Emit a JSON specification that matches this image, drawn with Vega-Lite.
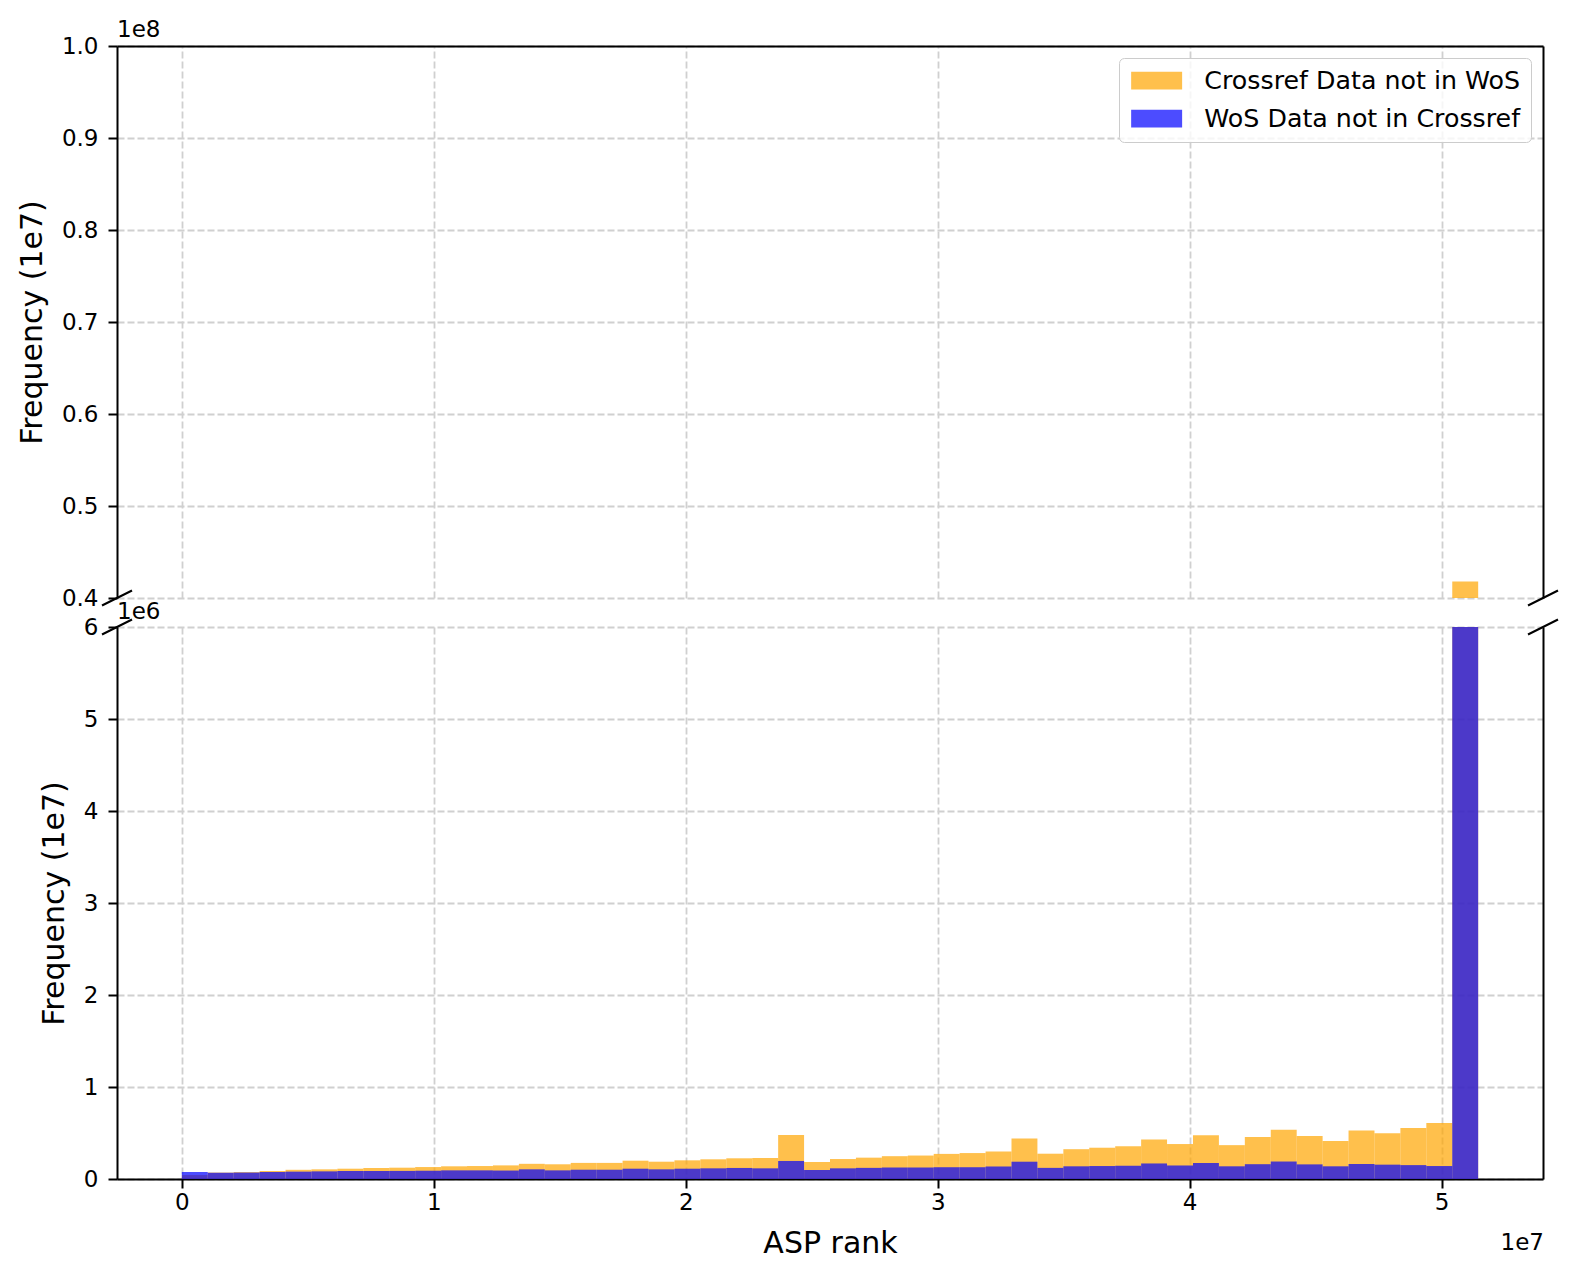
{
  "$schema": "https://vega.github.io/schema/vega-lite/v6.json",
  "padding": {"left": 17, "top": 19, "right": 5, "bottom": 5},
  "background": "white",
  "config": {
    "font": "DejaVu Sans",
    "view": {"stroke": null},
    "axis": {
      "labelFont": "DejaVu Sans", "titleFont": "DejaVu Sans",
      "labelFontSize": 23, "titleFontSize": 30, "titleFontWeight": "normal",
      "labelColor": "black", "titleColor": "black",
      "domainColor": "black", "domainWidth": 2,
      "tickColor": "black", "tickWidth": 2, "tickSize": 9,
      "labelPadding": 7, "titlePadding": 14,
      "gridColor": "#d0d0d0", "gridDash": [7, 3], "gridWidth": 1.8, "gridOpacity": 1
    },
    "axisX": {"labelPadding": 3},
    "axisY": {"labelPadding": 10},
    "title": {"font": "DejaVu Sans", "fontSize": 23, "fontWeight": "normal", "color": "black"}
  },
  "datasets": {
    "hist": [
      {"series": "Crossref Data not in WoS", "start": 0, "end": 1029000, "count": 43000},
      {"series": "Crossref Data not in WoS", "start": 1029000, "end": 2058000, "count": 70000},
      {"series": "Crossref Data not in WoS", "start": 2058000, "end": 3087000, "count": 75000},
      {"series": "Crossref Data not in WoS", "start": 3087000, "end": 4116000, "count": 87000},
      {"series": "Crossref Data not in WoS", "start": 4116000, "end": 5145000, "count": 100000},
      {"series": "Crossref Data not in WoS", "start": 5145000, "end": 6174000, "count": 105000},
      {"series": "Crossref Data not in WoS", "start": 6174000, "end": 7203000, "count": 112000},
      {"series": "Crossref Data not in WoS", "start": 7203000, "end": 8232000, "count": 120000},
      {"series": "Crossref Data not in WoS", "start": 8232000, "end": 9261000, "count": 123000},
      {"series": "Crossref Data not in WoS", "start": 9261000, "end": 10290000, "count": 130000},
      {"series": "Crossref Data not in WoS", "start": 10290000, "end": 11319000, "count": 138000},
      {"series": "Crossref Data not in WoS", "start": 11319000, "end": 12348000, "count": 141000},
      {"series": "Crossref Data not in WoS", "start": 12348000, "end": 13377000, "count": 148000},
      {"series": "Crossref Data not in WoS", "start": 13377000, "end": 14406000, "count": 165000},
      {"series": "Crossref Data not in WoS", "start": 14406000, "end": 15435000, "count": 160000},
      {"series": "Crossref Data not in WoS", "start": 15435000, "end": 16464000, "count": 175000},
      {"series": "Crossref Data not in WoS", "start": 16464000, "end": 17493000, "count": 175000},
      {"series": "Crossref Data not in WoS", "start": 17493000, "end": 18522000, "count": 199000},
      {"series": "Crossref Data not in WoS", "start": 18522000, "end": 19551000, "count": 188000},
      {"series": "Crossref Data not in WoS", "start": 19551000, "end": 20580000, "count": 203000},
      {"series": "Crossref Data not in WoS", "start": 20580000, "end": 21609000, "count": 214000},
      {"series": "Crossref Data not in WoS", "start": 21609000, "end": 22638000, "count": 225000},
      {"series": "Crossref Data not in WoS", "start": 22638000, "end": 23667000, "count": 228000},
      {"series": "Crossref Data not in WoS", "start": 23667000, "end": 24696000, "count": 477000},
      {"series": "Crossref Data not in WoS", "start": 24696000, "end": 25725000, "count": 185000},
      {"series": "Crossref Data not in WoS", "start": 25725000, "end": 26754000, "count": 217000},
      {"series": "Crossref Data not in WoS", "start": 26754000, "end": 27783000, "count": 232000},
      {"series": "Crossref Data not in WoS", "start": 27783000, "end": 28812000, "count": 248000},
      {"series": "Crossref Data not in WoS", "start": 28812000, "end": 29841000, "count": 255000},
      {"series": "Crossref Data not in WoS", "start": 29841000, "end": 30870000, "count": 273000},
      {"series": "Crossref Data not in WoS", "start": 30870000, "end": 31899000, "count": 282000},
      {"series": "Crossref Data not in WoS", "start": 31899000, "end": 32928000, "count": 299000},
      {"series": "Crossref Data not in WoS", "start": 32928000, "end": 33957000, "count": 440000},
      {"series": "Crossref Data not in WoS", "start": 33957000, "end": 34986000, "count": 275000},
      {"series": "Crossref Data not in WoS", "start": 34986000, "end": 36015000, "count": 324000},
      {"series": "Crossref Data not in WoS", "start": 36015000, "end": 37044000, "count": 340000},
      {"series": "Crossref Data not in WoS", "start": 37044000, "end": 38073000, "count": 355000},
      {"series": "Crossref Data not in WoS", "start": 38073000, "end": 39102000, "count": 429000},
      {"series": "Crossref Data not in WoS", "start": 39102000, "end": 40131000, "count": 380000},
      {"series": "Crossref Data not in WoS", "start": 40131000, "end": 41160000, "count": 475000},
      {"series": "Crossref Data not in WoS", "start": 41160000, "end": 42189000, "count": 368000},
      {"series": "Crossref Data not in WoS", "start": 42189000, "end": 43218000, "count": 456000},
      {"series": "Crossref Data not in WoS", "start": 43218000, "end": 44247000, "count": 536000},
      {"series": "Crossref Data not in WoS", "start": 44247000, "end": 45276000, "count": 467000},
      {"series": "Crossref Data not in WoS", "start": 45276000, "end": 46305000, "count": 413000},
      {"series": "Crossref Data not in WoS", "start": 46305000, "end": 47334000, "count": 527000},
      {"series": "Crossref Data not in WoS", "start": 47334000, "end": 48363000, "count": 498000},
      {"series": "Crossref Data not in WoS", "start": 48363000, "end": 49392000, "count": 554000},
      {"series": "Crossref Data not in WoS", "start": 49392000, "end": 50421000, "count": 608000},
      {"series": "Crossref Data not in WoS", "start": 50421000, "end": 51450000, "count": 41800000},
      {"series": "WoS Data not in Crossref", "start": 0, "end": 1029000, "count": 76000},
      {"series": "WoS Data not in Crossref", "start": 1029000, "end": 2058000, "count": 68000},
      {"series": "WoS Data not in Crossref", "start": 2058000, "end": 3087000, "count": 70000},
      {"series": "WoS Data not in Crossref", "start": 3087000, "end": 4116000, "count": 76000},
      {"series": "WoS Data not in Crossref", "start": 4116000, "end": 5145000, "count": 80000},
      {"series": "WoS Data not in Crossref", "start": 5145000, "end": 6174000, "count": 83000},
      {"series": "WoS Data not in Crossref", "start": 6174000, "end": 7203000, "count": 87000},
      {"series": "WoS Data not in Crossref", "start": 7203000, "end": 8232000, "count": 87000},
      {"series": "WoS Data not in Crossref", "start": 8232000, "end": 9261000, "count": 88000},
      {"series": "WoS Data not in Crossref", "start": 9261000, "end": 10290000, "count": 90000},
      {"series": "WoS Data not in Crossref", "start": 10290000, "end": 11319000, "count": 94000},
      {"series": "WoS Data not in Crossref", "start": 11319000, "end": 12348000, "count": 94000},
      {"series": "WoS Data not in Crossref", "start": 12348000, "end": 13377000, "count": 92000},
      {"series": "WoS Data not in Crossref", "start": 13377000, "end": 14406000, "count": 105000},
      {"series": "WoS Data not in Crossref", "start": 14406000, "end": 15435000, "count": 94000},
      {"series": "WoS Data not in Crossref", "start": 15435000, "end": 16464000, "count": 101000},
      {"series": "WoS Data not in Crossref", "start": 16464000, "end": 17493000, "count": 101000},
      {"series": "WoS Data not in Crossref", "start": 17493000, "end": 18522000, "count": 112000},
      {"series": "WoS Data not in Crossref", "start": 18522000, "end": 19551000, "count": 105000},
      {"series": "WoS Data not in Crossref", "start": 19551000, "end": 20580000, "count": 112000},
      {"series": "WoS Data not in Crossref", "start": 20580000, "end": 21609000, "count": 116000},
      {"series": "WoS Data not in Crossref", "start": 21609000, "end": 22638000, "count": 120000},
      {"series": "WoS Data not in Crossref", "start": 22638000, "end": 23667000, "count": 116000},
      {"series": "WoS Data not in Crossref", "start": 23667000, "end": 24696000, "count": 196000},
      {"series": "WoS Data not in Crossref", "start": 24696000, "end": 25725000, "count": 98000},
      {"series": "WoS Data not in Crossref", "start": 25725000, "end": 26754000, "count": 116000},
      {"series": "WoS Data not in Crossref", "start": 26754000, "end": 27783000, "count": 121000},
      {"series": "WoS Data not in Crossref", "start": 27783000, "end": 28812000, "count": 125000},
      {"series": "WoS Data not in Crossref", "start": 28812000, "end": 29841000, "count": 125000},
      {"series": "WoS Data not in Crossref", "start": 29841000, "end": 30870000, "count": 128000},
      {"series": "WoS Data not in Crossref", "start": 30870000, "end": 31899000, "count": 128000},
      {"series": "WoS Data not in Crossref", "start": 31899000, "end": 32928000, "count": 136000},
      {"series": "WoS Data not in Crossref", "start": 32928000, "end": 33957000, "count": 188000},
      {"series": "WoS Data not in Crossref", "start": 33957000, "end": 34986000, "count": 121000},
      {"series": "WoS Data not in Crossref", "start": 34986000, "end": 36015000, "count": 138000},
      {"series": "WoS Data not in Crossref", "start": 36015000, "end": 37044000, "count": 141000},
      {"series": "WoS Data not in Crossref", "start": 37044000, "end": 38073000, "count": 143000},
      {"series": "WoS Data not in Crossref", "start": 38073000, "end": 39102000, "count": 169000},
      {"series": "WoS Data not in Crossref", "start": 39102000, "end": 40131000, "count": 147000},
      {"series": "WoS Data not in Crossref", "start": 40131000, "end": 41160000, "count": 174000},
      {"series": "WoS Data not in Crossref", "start": 41160000, "end": 42189000, "count": 138000},
      {"series": "WoS Data not in Crossref", "start": 42189000, "end": 43218000, "count": 161000},
      {"series": "WoS Data not in Crossref", "start": 43218000, "end": 44247000, "count": 190000},
      {"series": "WoS Data not in Crossref", "start": 44247000, "end": 45276000, "count": 159000},
      {"series": "WoS Data not in Crossref", "start": 45276000, "end": 46305000, "count": 138000},
      {"series": "WoS Data not in Crossref", "start": 46305000, "end": 47334000, "count": 163000},
      {"series": "WoS Data not in Crossref", "start": 47334000, "end": 48363000, "count": 156000},
      {"series": "WoS Data not in Crossref", "start": 48363000, "end": 49392000, "count": 151000},
      {"series": "WoS Data not in Crossref", "start": 49392000, "end": 50421000, "count": 141000},
      {"series": "WoS Data not in Crossref", "start": 50421000, "end": 51450000, "count": 15000000}
    ]
  },
  "title": {"text": "1e7", "orient": "bottom", "anchor": "end", "frame": "bounds", "offset": -26, "fontSize": 23, "dx": -15},
  "vconcat": [
    {
      "width": 1426,
      "height": 552,
      "title": {"text": "1e8", "anchor": "start", "frame": "group", "offset": -7, "fontSize": 23},
      "data": {"name": "hist"},
      "layer": [
        {
          "mark": {"type": "bar", "clip": true, "opacity": 0.7, "strokeWidth": 0},
          "encoding": {
            "x": {"field": "start", "type": "quantitative",
                  "scale": {"domain": [-2572500, 54022500], "nice": false, "zero": false},
                  "axis": {"orient": "top", "values": [0, 10000000, 20000000, 30000000, 40000000, 50000000], "labels": false, "ticks": false, "domain": true, "grid": true, "title": null}},
            "x2": {"field": "end"},
            "y": {"field": "count", "type": "quantitative",
                  "scale": {"domain": [40000000, 100000000], "nice": false, "zero": false},
                  "axis": {"orient": "left", "values": [40000000, 50000000, 60000000, 70000000, 80000000, 90000000, 100000000], "labelExpr": "format(datum.value / 100000000, '.1f')", "title": "Frequency (1e7)", "grid": true}},
            "y2": {"datum": 0},
            "color": {"field": "series", "type": "nominal",
                      "scale": {"domain": ["Crossref Data not in WoS", "WoS Data not in Crossref"], "range": ["#FFA500", "#0000FF"]},
                      "legend": {"orient": "top-right", "offset": 12, "title": null,
                                 "symbolType": "M-0.913,-0.774L3.52,-0.774L3.52,0.774L-0.913,0.774Z", "symbolSize": 529,
                                 "symbolOpacity": 0.7, "symbolStrokeWidth": 0,
                                 "labelFontSize": 25.3, "labelFont": "DejaVu Sans", "labelColor": "black", "labelOffset": 50, "labelLimit": 0,
                                 "rowPadding": 12, "padding": 10, "strokeColor": "#cccccc", "fillColor": "rgba(255,255,255,0.8)", "cornerRadius": 5}}
          }
        },
        {
          "mark": {"type": "rule", "opacity": 0, "clip": true},
          "encoding": {
            "y": {"datum": 40000000, "type": "quantitative",
                  "scale": {"domain": [40000000, 100000000], "nice": false, "zero": false},
                  "axis": {"orient": "right", "labels": false, "ticks": false, "grid": false, "domain": true, "title": null}}
          }
        },
        {
          "data": {"values": [{}]},
          "mark": {"type": "rule", "clip": false, "color": "black", "strokeWidth": 2},
          "encoding": {
            "x": {"datum": -3167800, "type": "quantitative"},
            "x2": {"datum": -1977200},
            "y": {"datum": 39184800, "type": "quantitative", "scale": {"domain": [40000000, 100000000], "nice": false, "zero": false}, "axis": null},
            "y2": {"datum": 40815200}
          }
        },
        {
          "data": {"values": [{}]},
          "mark": {"type": "rule", "clip": false, "color": "black", "strokeWidth": 2},
          "encoding": {
            "x": {"datum": 53427200, "type": "quantitative"},
            "x2": {"datum": 54617800},
            "y": {"datum": 39184800, "type": "quantitative", "scale": {"domain": [40000000, 100000000], "nice": false, "zero": false}, "axis": null},
            "y2": {"datum": 40815200}
          }
        }
      ],
      "resolve": {"axis": {"y": "independent"}}
    },
    {
      "width": 1426,
      "height": 552,
      "title": {"text": "1e6", "anchor": "start", "frame": "group", "offset": -8, "fontSize": 23},
      "data": {"name": "hist"},
      "layer": [
        {
          "mark": {"type": "bar", "clip": true, "opacity": 0.7, "strokeWidth": 0},
          "encoding": {
            "x": {"field": "start", "type": "quantitative",
                  "scale": {"domain": [-2572500, 54022500], "nice": false, "zero": false},
                  "axis": {"orient": "bottom", "values": [0, 10000000, 20000000, 30000000, 40000000, 50000000], "labelExpr": "format(datum.value / 10000000, 'd')", "grid": true, "title": "ASP rank"}},
            "x2": {"field": "end"},
            "y": {"field": "count", "type": "quantitative",
                  "scale": {"domain": [0, 6000000], "nice": false, "zero": false},
                  "axis": {"orient": "left", "values": [0, 1000000, 2000000, 3000000, 4000000, 5000000, 6000000], "labelExpr": "format(datum.value / 1000000, 'd')", "title": "Frequency (1e7)", "grid": true}},
            "y2": {"datum": 0},
            "color": {"field": "series", "type": "nominal",
                      "scale": {"domain": ["Crossref Data not in WoS", "WoS Data not in Crossref"], "range": ["#FFA500", "#0000FF"]},
                      "legend": null}
          }
        },
        {
          "mark": {"type": "rule", "opacity": 0, "clip": true},
          "encoding": {
            "y": {"datum": 0, "type": "quantitative",
                  "scale": {"domain": [0, 6000000], "nice": false, "zero": false},
                  "axis": {"orient": "right", "labels": false, "ticks": false, "grid": false, "domain": true, "title": null}}
          }
        },
        {
          "data": {"values": [{}]},
          "mark": {"type": "rule", "clip": false, "color": "black", "strokeWidth": 2},
          "encoding": {
            "x": {"datum": -3167800, "type": "quantitative"},
            "x2": {"datum": -1977200},
            "y": {"datum": 5918480, "type": "quantitative", "scale": {"domain": [0, 6000000], "nice": false, "zero": false}, "axis": null},
            "y2": {"datum": 6081520}
          }
        },
        {
          "data": {"values": [{}]},
          "mark": {"type": "rule", "clip": false, "color": "black", "strokeWidth": 2},
          "encoding": {
            "x": {"datum": 53427200, "type": "quantitative"},
            "x2": {"datum": 54617800},
            "y": {"datum": 5918480, "type": "quantitative", "scale": {"domain": [0, 6000000], "nice": false, "zero": false}, "axis": null},
            "y2": {"datum": 6081520}
          }
        }
      ],
      "resolve": {"axis": {"y": "independent"}}
    }
  ],
  "spacing": 29,
  "bounds": "flush",
  "resolve": {"scale": {"color": "independent"}, "legend": {"color": "independent"}}
}
